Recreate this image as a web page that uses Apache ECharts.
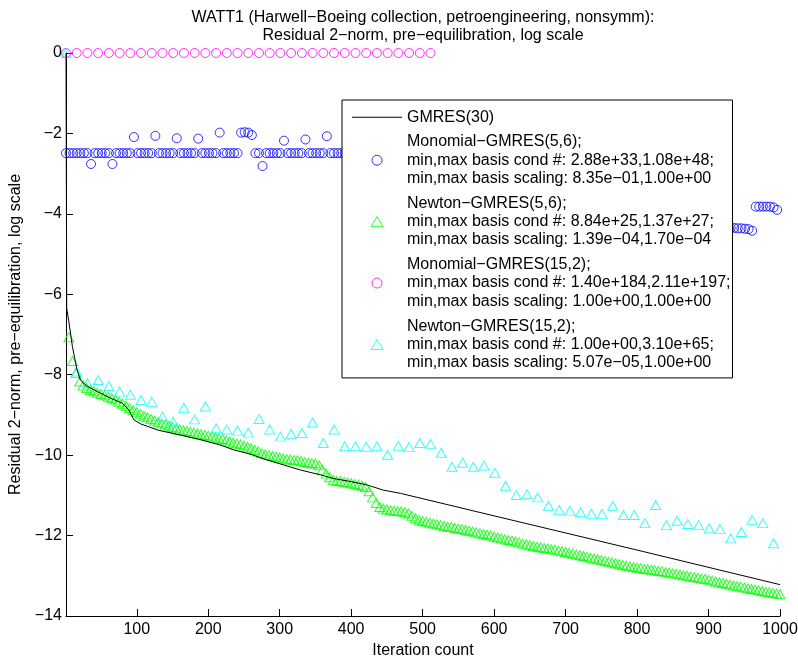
<!DOCTYPE html>
<html><head><meta charset="utf-8">
<script src="https://cdn.jsdelivr.net/npm/echarts@6/dist/echarts.min.js"></script>
<style>html,body{margin:0;padding:0;background:#fff}#c{width:798px;height:657px}</style>
</head><body><div id="c"></div>
<script>
// ---- texts ----
const titleText = 'WATT1 (Harwell\u2212Boeing collection, petroengineering, nonsymm):\nResidual 2\u2212norm, pre\u2212equilibration, log scale';
const xAxisName = 'Iteration count';
const yAxisName = 'Residual 2\u2212norm, pre\u2212equilibration, log scale';
const xTickValues = [100, 200, 300, 400, 500, 600, 700, 800, 900, 1000];

const seriesNames = [
  'GMRES(30)',
  'Monomial\u2212GMRES(5,6);\nmin,max basis cond #: 2.88e+33,1.08e+48;\nmin,max basis scaling: 8.35e\u221201,1.00e+00',
  'Newton\u2212GMRES(5,6);\nmin,max basis cond #: 8.84e+25,1.37e+27;\nmin,max basis scaling: 1.39e\u221204,1.70e\u221204',
  'Monomial\u2212GMRES(15,2);\nmin,max basis cond #: 1.40e+184,2.11e+197;\nmin,max basis scaling: 1.00e+00,1.00e+00',
  'Newton\u2212GMRES(15,2);\nmin,max basis cond #: 1.00e+00,3.10e+65;\nmin,max basis scaling: 5.07e\u221205,1.00e+00'
];
const seriesColors = ['#000000', '#0000ff', '#00ff00', '#ff00ff', '#00ffff'];

// ---- GMRES(30): iteration, log10 residual ----
const gmresX = [1, 2, 5, 10, 16, 21, 30, 45, 63, 80, 89, 96, 105, 130, 161, 190, 217, 236, 260, 282, 305, 329, 357, 375, 400, 422, 445, 469, 600, 800, 1000];
const gmresY = [0, -6.35, -6.68, -7.3, -7.85, -8.13, -8.28, -8.42, -8.58, -8.71, -8.88, -9.12, -9.22, -9.38, -9.50, -9.62, -9.75, -9.87, -9.98, -10.12, -10.24, -10.37, -10.49, -10.58, -10.66, -10.74, -10.87, -10.95, -11.51, -12.36, -13.22];

// ---- Monomial-GMRES(5,6): every 5 iterations; left part starts at 1, right part starts at 926 ----
const mono56LeftStart = 1, mono56RightStart = 926, mono56Step = 5;
const mono56LeftY = [
  -2.49, -2.49, -2.49, -2.49, -2.49, -2.49, -2.49, -2.76, -2.49, -2.49,
  -2.49, -2.49, -2.49, -2.76, -2.49, -2.49, -2.49, -2.49, -2.49, -2.09,
  -2.49, -2.49, -2.49, -2.49, -2.49, -2.06, -2.49, -2.49, -2.49, -2.49,
  -2.49, -2.12, -2.49, -2.49, -2.49, -2.49, -2.49, -2.13, -2.49, -2.49,
  -2.49, -2.49, -2.49, -1.98, -2.49, -2.49, -2.49, -2.49, -2.49, -1.98,
  -1.97, -1.98, -2.04, -2.49, -2.49, -2.81, -2.49, -2.49, -2.49, -2.49,
  -2.49, -2.18, -2.49, -2.49, -2.49, -2.49, -2.49, -2.15, -2.49, -2.49,
  -2.49, -2.49, -2.49, -2.07, -2.49, -2.49, -2.49, -2.49, -2.49
];
const mono56RightY = [-4.34, -4.35, -4.35, -4.36, -4.36, -4.37, -4.38, -4.42, -3.82, -3.82, -3.82, -3.82, -3.82, -3.84, -3.90];

// ---- Newton-GMRES(5,6): every 5 iterations starting at 5 ----
const newton56Start = 5, newton56Step = 5;
const newton56Y = [
  -7.07, -7.66, -7.96, -8.17, -8.27, -8.33, -8.38, -8.41, -8.45, -8.48,
  -8.51, -8.55, -8.58, -8.62, -8.67, -8.72, -8.77, -8.83, -8.88, -8.93,
  -8.98, -9.02, -9.06, -9.10, -9.14, -9.18, -9.21, -9.24, -9.27, -9.30,
  -9.33, -9.36, -9.38, -9.40, -9.42, -9.44, -9.46, -9.48, -9.50, -9.52,
  -9.54, -9.56, -9.58, -9.60, -9.63, -9.66, -9.69, -9.71, -9.73, -9.76,
  -9.79, -9.83, -9.87, -9.91, -9.95, -9.98, -10.00, -10.02, -10.04, -10.06,
  -10.08, -10.10, -10.11, -10.12, -10.13, -10.15, -10.17, -10.19, -10.20, -10.21,
  -10.25, -10.36, -10.46, -10.55, -10.62, -10.64, -10.65, -10.67, -10.68, -10.70,
  -10.72, -10.74, -10.76, -10.79, -10.90, -11.05, -11.19, -11.29, -11.33, -11.35,
  -11.37, -11.38, -11.39, -11.40, -11.42, -11.45, -11.51, -11.57, -11.61, -11.64,
  -11.66, -11.68, -11.70, -11.72, -11.74, -11.76, -11.78, -11.79, -11.81, -11.83,
  -11.84, -11.86, -11.88, -11.90, -11.92, -11.94, -11.96, -11.98, -12.00, -12.03,
  -12.05, -12.07, -12.09, -12.11, -12.13, -12.15, -12.17, -12.20, -12.22, -12.24,
  -12.26, -12.28, -12.29, -12.31, -12.32, -12.34, -12.35, -12.37, -12.39, -12.41,
  -12.43, -12.45, -12.47, -12.49, -12.51, -12.53, -12.55, -12.57, -12.59, -12.61,
  -12.63, -12.65, -12.67, -12.69, -12.71, -12.73, -12.75, -12.77, -12.78, -12.80,
  -12.81, -12.83, -12.84, -12.85, -12.86, -12.88, -12.89, -12.91, -12.92, -12.94,
  -12.95, -12.97, -12.99, -13.00, -13.02, -13.03, -13.05, -13.07, -13.08, -13.10,
  -13.12, -13.14, -13.16, -13.18, -13.20, -13.22, -13.24, -13.26, -13.27, -13.29,
  -13.31, -13.33, -13.34, -13.36, -13.38, -13.40, -13.41, -13.43, -13.44, -13.46
];

// ---- Monomial-GMRES(15,2): every 15 iterations starting at 1 ----
const mono152Start = 1, mono152Step = 15;
const mono152Y = [0, 0, 0, 0, 0, 0, 0, 0, 0, 0, 0, 0, 0, 0, 0, 0, 0, 0, 0, 0, 0, 0, 0, 0, 0, 0, 0, 0, 0, 0, 0, 0, 0, 0, 0];

// ---- Newton-GMRES(15,2): every 15 iterations starting at 1 ----
const newton152Start = 1, newton152Step = 15;
const newton152Y = [
  0, -7.92, -8.21, -8.13, -8.28, -8.42, -8.50, -8.63, -8.67, -9.04,
  -9.17, -8.82, -9.11, -8.79, -9.33, -9.36, -9.39, -9.44, -9.10, -9.36,
  -9.54, -9.47, -9.45, -9.19, -9.70, -9.36, -9.78, -9.78, -9.79, -9.78,
  -9.99, -9.77, -9.80, -9.70, -9.72, -9.94, -10.29, -10.19, -10.29, -10.26,
  -10.44, -10.76, -10.99, -10.97, -11.05, -11.26, -11.36, -11.38, -11.42, -11.46,
  -11.46, -11.26, -11.49, -11.49, -11.69, -11.24, -11.74, -11.63, -11.71, -11.74,
  -11.82, -11.84, -12.07, -11.91, -11.61, -11.69, -12.19
];

// ---- build ----
const FONT = '"Liberation Sans", Arial, Helvetica, sans-serif';
function grid(start, step, ys) { return ys.map((y, i) => [start + i * step, y]); }
function zip(xs, ys) { return xs.map((x, i) => [x, ys[i]]); }
function minus(v) { return v < 0 ? '\u2212' + Math.abs(v) : String(v); }

const mono56Data = grid(mono56LeftStart, mono56Step, mono56LeftY).concat(grid(mono56RightStart, mono56Step, mono56RightY));

function scatter(name, data, symbol, size, color) {
  return {
    type: 'scatter', name: name, data: data, symbol: symbol, symbolSize: size,
    clip: false, silent: true,
    itemStyle: { color: 'rgba(0,0,0,0)', borderColor: color, borderWidth: 1 }
  };
}
const triPath = 'path://M6,0L12,10L0,10Z';
const legendIcons = ['path://M0,0L50,0L50,1L0,1Z', 'circle', triPath, 'circle', triPath];
const legendData = seriesNames.map((n, i) => ({
  name: n,
  icon: legendIcons[i],
  itemStyle: i === 0
    ? { color: seriesColors[i], borderWidth: 0 }
    : { color: 'rgba(0,0,0,0)', borderColor: seriesColors[i], borderWidth: 1 }
}));

const chart = echarts.init(document.getElementById('c'), null, { renderer: 'canvas', width: 798, height: 657 });
chart.setOption({
  animation: false,
  backgroundColor: '#fff',
  textStyle: { fontFamily: FONT },
  title: {
    text: titleText, left: 423, textAlign: 'center', top: 9, padding: 0,
    textStyle: { fontSize: 16, fontWeight: 'normal', color: '#000', lineHeight: 18, fontFamily: FONT }
  },
  grid: { left: 66, top: 53, width: 714, height: 563, containLabel: false, outerBoundsMode: 'none' },
  legend: {
    orient: 'vertical', left: 342, top: 100, z: 10,
    padding: [8, 2, 6, 10], itemGap: 6.5, itemWidth: 50, itemHeight: 10,
    symbolKeepAspect: true,
    backgroundColor: '#fff', borderColor: '#000', borderWidth: 1,
    selectedMode: false,
    textStyle: { fontSize: 16, lineHeight: 18.3, color: '#000', fontFamily: FONT },
    data: legendData
  },
  xAxis: {
    type: 'value', min: 1, max: 1000,
    name: xAxisName, nameLocation: 'middle', nameGap: 24,
    nameTextStyle: { fontSize: 16, color: '#000', fontFamily: FONT },
    axisLine: { show: true, onZero: false, lineStyle: { color: '#000', width: 1 } },
    axisTick: { show: true, inside: true, length: 7, customValues: xTickValues, lineStyle: { color: '#000' } },
    axisLabel: { customValues: xTickValues, fontSize: 16, color: '#000', margin: 6, fontFamily: FONT, formatter: v => String(v) },
    splitLine: { show: false }
  },
  yAxis: {
    type: 'value', min: -14, max: 0, interval: 2,
    name: yAxisName, nameLocation: 'middle', nameGap: 33, nameRotate: 90,
    nameTextStyle: { fontSize: 16, color: '#000', fontFamily: FONT },
    axisLine: { show: true, onZero: false, lineStyle: { color: '#000', width: 1 } },
    axisTick: { show: true, inside: true, length: 7, lineStyle: { color: '#000' } },
    axisLabel: { fontSize: 16, color: '#000', margin: 4, formatter: minus, fontFamily: FONT },
    splitLine: { show: false }
  },
  series: [
    {
      type: 'line', name: seriesNames[0], data: zip(gmresX, gmresY), symbol: 'none',
      clip: false, silent: true, lineStyle: { color: '#000', width: 1 }, itemStyle: { color: '#000' }
    },
    scatter(seriesNames[1], mono56Data, 'circle', 9, seriesColors[1]),
    scatter(seriesNames[2], grid(newton56Start, newton56Step, newton56Y), 'triangle', [10, 9], seriesColors[2]),
    scatter(seriesNames[3], grid(mono152Start, mono152Step, mono152Y), 'circle', 9, seriesColors[3]),
    scatter(seriesNames[4], grid(newton152Start, newton152Step, newton152Y), 'triangle', [10, 9], seriesColors[4])
  ]
});
</script>
</body></html>
